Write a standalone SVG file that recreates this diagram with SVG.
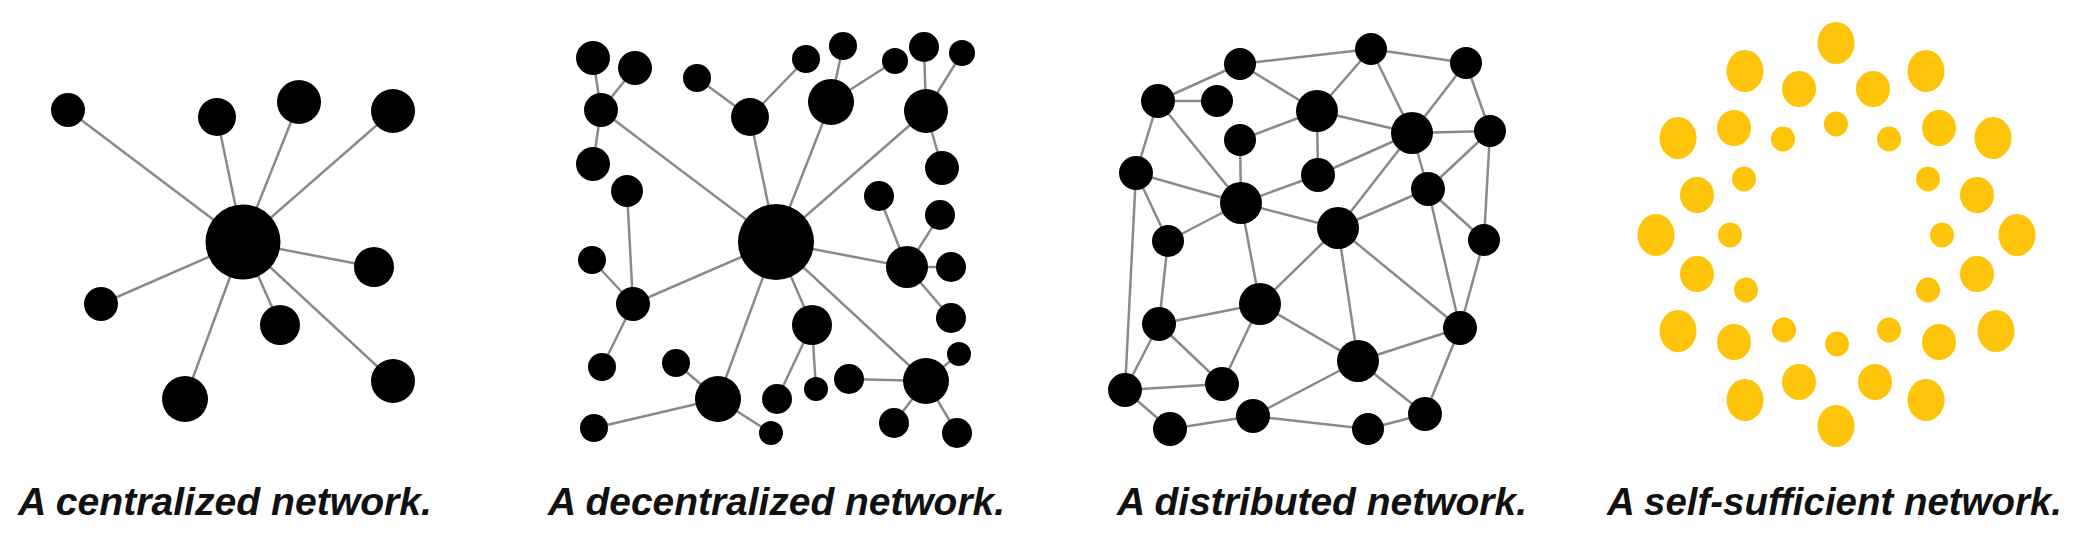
<svg xmlns="http://www.w3.org/2000/svg" width="2095" height="551" viewBox="0 0 2095 551">
<style>
.bg{fill:#ffffff}
.edge{stroke:#8a8a8a;stroke-width:2.5;stroke-linecap:round;fill:none}
.node{fill:#000000}
.sun{fill:#FDC40A}
.label{font-family:"Liberation Sans",Arial,sans-serif;font-weight:bold;font-style:italic;font-size:39px;fill:#111111}
</style>
<rect class="bg" x="0" y="0" width="2095" height="551"/>

<!-- Panel 1: centralized -->
<g id="connectors-centralized">
<line class="edge" x1="243" y1="242" x2="68" y2="110"/>
<line class="edge" x1="243" y1="242" x2="217" y2="117"/>
<line class="edge" x1="243" y1="242" x2="299" y2="102"/>
<line class="edge" x1="243" y1="242" x2="393" y2="111"/>
<line class="edge" x1="243" y1="242" x2="374" y2="267"/>
<line class="edge" x1="243" y1="242" x2="101" y2="304"/>
<line class="edge" x1="243" y1="242" x2="280" y2="325"/>
<line class="edge" x1="243" y1="242" x2="393" y2="381"/>
<line class="edge" x1="243" y1="242" x2="185" y2="399"/>
</g>
<g id="c-hub"><circle class="node" cx="243" cy="242" r="37.5"/></g>
<g id="c-a"><circle class="node" cx="68" cy="110" r="17"/></g>
<g id="c-b"><circle class="node" cx="217" cy="117" r="19"/></g>
<g id="c-c"><circle class="node" cx="299" cy="102" r="22"/></g>
<g id="c-d"><circle class="node" cx="393" cy="111" r="22"/></g>
<g id="c-e"><circle class="node" cx="374" cy="267" r="20"/></g>
<g id="c-f"><circle class="node" cx="101" cy="304" r="17"/></g>
<g id="c-g"><circle class="node" cx="280" cy="325" r="20"/></g>
<g id="c-h"><circle class="node" cx="393" cy="381" r="22"/></g>
<g id="c-i"><circle class="node" cx="185" cy="399" r="23"/></g>

<!-- Panel 2: decentralized -->
<g id="connectors-decentralized">
<line class="edge" x1="776" y1="242" x2="601" y2="110"/>
<line class="edge" x1="776" y1="242" x2="750" y2="117"/>
<line class="edge" x1="776" y1="242" x2="831" y2="102"/>
<line class="edge" x1="776" y1="242" x2="926" y2="111"/>
<line class="edge" x1="776" y1="242" x2="907" y2="267"/>
<line class="edge" x1="776" y1="242" x2="926" y2="381"/>
<line class="edge" x1="776" y1="242" x2="812" y2="325"/>
<line class="edge" x1="776" y1="242" x2="718" y2="399"/>
<line class="edge" x1="776" y1="242" x2="633" y2="304"/>
<line class="edge" x1="601" y1="110" x2="593" y2="58"/>
<line class="edge" x1="601" y1="110" x2="635" y2="68"/>
<line class="edge" x1="601" y1="110" x2="593" y2="164"/>
<line class="edge" x1="633" y1="304" x2="627" y2="191"/>
<line class="edge" x1="633" y1="304" x2="592" y2="260"/>
<line class="edge" x1="633" y1="304" x2="602" y2="367"/>
<line class="edge" x1="718" y1="399" x2="676" y2="363"/>
<line class="edge" x1="718" y1="399" x2="594" y2="428"/>
<line class="edge" x1="718" y1="399" x2="771" y2="433"/>
<line class="edge" x1="812" y1="325" x2="777" y2="399"/>
<line class="edge" x1="812" y1="325" x2="816" y2="389"/>
<line class="edge" x1="926" y1="381" x2="849" y2="379"/>
<line class="edge" x1="926" y1="381" x2="959" y2="354"/>
<line class="edge" x1="926" y1="381" x2="894" y2="423"/>
<line class="edge" x1="926" y1="381" x2="957" y2="433"/>
<line class="edge" x1="907" y1="267" x2="879" y2="196"/>
<line class="edge" x1="907" y1="267" x2="940" y2="215"/>
<line class="edge" x1="907" y1="267" x2="951" y2="267"/>
<line class="edge" x1="907" y1="267" x2="951" y2="318"/>
<line class="edge" x1="926" y1="111" x2="924" y2="47"/>
<line class="edge" x1="926" y1="111" x2="962" y2="53"/>
<line class="edge" x1="926" y1="111" x2="942" y2="168"/>
<line class="edge" x1="831" y1="102" x2="843" y2="46"/>
<line class="edge" x1="831" y1="102" x2="895" y2="61"/>
<line class="edge" x1="750" y1="117" x2="697" y2="78"/>
<line class="edge" x1="750" y1="117" x2="806" y2="59"/>
</g>
<g id="d-hub"><circle class="node" cx="776" cy="242" r="38"/></g>
<g id="d-n1"><circle class="node" cx="593" cy="58" r="17"/></g>
<g id="d-n2"><circle class="node" cx="635" cy="68" r="17"/></g>
<g id="d-n3"><circle class="node" cx="601" cy="110" r="17"/></g>
<g id="d-n4"><circle class="node" cx="593" cy="164" r="17"/></g>
<g id="d-n5"><circle class="node" cx="627" cy="191" r="16"/></g>
<g id="d-n6"><circle class="node" cx="592" cy="260" r="14"/></g>
<g id="d-n7"><circle class="node" cx="633" cy="304" r="17"/></g>
<g id="d-n8"><circle class="node" cx="602" cy="367" r="14"/></g>
<g id="d-n9"><circle class="node" cx="594" cy="428" r="14"/></g>
<g id="d-n10"><circle class="node" cx="676" cy="363" r="14"/></g>
<g id="d-n11"><circle class="node" cx="718" cy="399" r="23"/></g>
<g id="d-n12"><circle class="node" cx="771" cy="433" r="12"/></g>
<g id="d-n13"><circle class="node" cx="777" cy="399" r="15"/></g>
<g id="d-n14"><circle class="node" cx="816" cy="389" r="12"/></g>
<g id="d-n15"><circle class="node" cx="812" cy="325" r="20"/></g>
<g id="d-n16"><circle class="node" cx="849" cy="379" r="15"/></g>
<g id="d-n17"><circle class="node" cx="926" cy="381" r="23"/></g>
<g id="d-n18"><circle class="node" cx="959" cy="354" r="12"/></g>
<g id="d-n19"><circle class="node" cx="894" cy="423" r="15"/></g>
<g id="d-n20"><circle class="node" cx="957" cy="433" r="15"/></g>
<g id="d-n21"><circle class="node" cx="951" cy="318" r="15"/></g>
<g id="d-n22"><circle class="node" cx="907" cy="267" r="21"/></g>
<g id="d-n23"><circle class="node" cx="951" cy="267" r="15"/></g>
<g id="d-n24"><circle class="node" cx="940" cy="215" r="15"/></g>
<g id="d-n25"><circle class="node" cx="879" cy="196" r="15"/></g>
<g id="d-n26"><circle class="node" cx="942" cy="168" r="17"/></g>
<g id="d-n27"><circle class="node" cx="926" cy="111" r="22"/></g>
<g id="d-n28"><circle class="node" cx="924" cy="47" r="15"/></g>
<g id="d-n29"><circle class="node" cx="962" cy="53" r="13"/></g>
<g id="d-n30"><circle class="node" cx="831" cy="102" r="23"/></g>
<g id="d-n31"><circle class="node" cx="843" cy="46" r="14"/></g>
<g id="d-n32"><circle class="node" cx="895" cy="61" r="13"/></g>
<g id="d-n33"><circle class="node" cx="750" cy="117" r="19"/></g>
<g id="d-n34"><circle class="node" cx="697" cy="78" r="14"/></g>
<g id="d-n35"><circle class="node" cx="806" cy="59" r="14"/></g>

<!-- Panel 3: distributed -->
<g id="connectors-distributed">
<line class="edge" x1="1240" y1="64" x2="1371" y2="49"/>
<line class="edge" x1="1371" y1="49" x2="1466" y2="63"/>
<line class="edge" x1="1240" y1="64" x2="1158" y2="101"/>
<line class="edge" x1="1158" y1="101" x2="1217" y2="101"/>
<line class="edge" x1="1240" y1="64" x2="1317" y2="111"/>
<line class="edge" x1="1371" y1="49" x2="1317" y2="111"/>
<line class="edge" x1="1371" y1="49" x2="1412" y2="133"/>
<line class="edge" x1="1466" y1="63" x2="1412" y2="133"/>
<line class="edge" x1="1466" y1="63" x2="1490" y2="131"/>
<line class="edge" x1="1317" y1="111" x2="1412" y2="133"/>
<line class="edge" x1="1317" y1="111" x2="1240" y2="140"/>
<line class="edge" x1="1317" y1="111" x2="1318" y2="175"/>
<line class="edge" x1="1412" y1="133" x2="1490" y2="131"/>
<line class="edge" x1="1412" y1="133" x2="1318" y2="175"/>
<line class="edge" x1="1412" y1="133" x2="1338" y2="228"/>
<line class="edge" x1="1412" y1="133" x2="1428" y2="189"/>
<line class="edge" x1="1490" y1="131" x2="1428" y2="189"/>
<line class="edge" x1="1490" y1="131" x2="1484" y2="240"/>
<line class="edge" x1="1158" y1="101" x2="1136" y2="173"/>
<line class="edge" x1="1158" y1="101" x2="1241" y2="203"/>
<line class="edge" x1="1240" y1="140" x2="1241" y2="203"/>
<line class="edge" x1="1136" y1="173" x2="1241" y2="203"/>
<line class="edge" x1="1136" y1="173" x2="1168" y2="241"/>
<line class="edge" x1="1136" y1="173" x2="1125" y2="390"/>
<line class="edge" x1="1318" y1="175" x2="1241" y2="203"/>
<line class="edge" x1="1428" y1="189" x2="1338" y2="228"/>
<line class="edge" x1="1428" y1="189" x2="1484" y2="240"/>
<line class="edge" x1="1428" y1="189" x2="1460" y2="328"/>
<line class="edge" x1="1241" y1="203" x2="1338" y2="228"/>
<line class="edge" x1="1241" y1="203" x2="1168" y2="241"/>
<line class="edge" x1="1241" y1="203" x2="1260" y2="304"/>
<line class="edge" x1="1338" y1="228" x2="1260" y2="304"/>
<line class="edge" x1="1338" y1="228" x2="1358" y2="361"/>
<line class="edge" x1="1338" y1="228" x2="1460" y2="328"/>
<line class="edge" x1="1168" y1="241" x2="1159" y2="324"/>
<line class="edge" x1="1484" y1="240" x2="1460" y2="328"/>
<line class="edge" x1="1260" y1="304" x2="1159" y2="324"/>
<line class="edge" x1="1260" y1="304" x2="1222" y2="384"/>
<line class="edge" x1="1260" y1="304" x2="1358" y2="361"/>
<line class="edge" x1="1159" y1="324" x2="1125" y2="390"/>
<line class="edge" x1="1159" y1="324" x2="1222" y2="384"/>
<line class="edge" x1="1460" y1="328" x2="1358" y2="361"/>
<line class="edge" x1="1460" y1="328" x2="1425" y2="414"/>
<line class="edge" x1="1358" y1="361" x2="1253" y2="416"/>
<line class="edge" x1="1358" y1="361" x2="1425" y2="414"/>
<line class="edge" x1="1125" y1="390" x2="1222" y2="384"/>
<line class="edge" x1="1125" y1="390" x2="1170" y2="429"/>
<line class="edge" x1="1253" y1="416" x2="1170" y2="429"/>
<line class="edge" x1="1253" y1="416" x2="1368" y2="429"/>
<line class="edge" x1="1425" y1="414" x2="1368" y2="429"/>
</g>
<g id="x-d1"><circle class="node" cx="1240" cy="64" r="16"/></g>
<g id="x-d2"><circle class="node" cx="1371" cy="49" r="16"/></g>
<g id="x-d3"><circle class="node" cx="1466" cy="63" r="16"/></g>
<g id="x-d4"><circle class="node" cx="1158" cy="101" r="17"/></g>
<g id="x-d5"><circle class="node" cx="1217" cy="101" r="16"/></g>
<g id="x-d6"><circle class="node" cx="1317" cy="111" r="21"/></g>
<g id="x-d7"><circle class="node" cx="1412" cy="133" r="21"/></g>
<g id="x-d8"><circle class="node" cx="1490" cy="131" r="16"/></g>
<g id="x-d9"><circle class="node" cx="1240" cy="140" r="16"/></g>
<g id="x-d10"><circle class="node" cx="1136" cy="173" r="17"/></g>
<g id="x-d11"><circle class="node" cx="1318" cy="175" r="17"/></g>
<g id="x-d12"><circle class="node" cx="1428" cy="189" r="17"/></g>
<g id="x-d13"><circle class="node" cx="1241" cy="203" r="21"/></g>
<g id="x-d14"><circle class="node" cx="1338" cy="228" r="21"/></g>
<g id="x-d15"><circle class="node" cx="1168" cy="241" r="16"/></g>
<g id="x-d16"><circle class="node" cx="1484" cy="240" r="16"/></g>
<g id="x-d17"><circle class="node" cx="1260" cy="304" r="21"/></g>
<g id="x-d18"><circle class="node" cx="1159" cy="324" r="17"/></g>
<g id="x-d19"><circle class="node" cx="1460" cy="328" r="17"/></g>
<g id="x-d20"><circle class="node" cx="1358" cy="361" r="21"/></g>
<g id="x-d21"><circle class="node" cx="1125" cy="390" r="17"/></g>
<g id="x-d22"><circle class="node" cx="1222" cy="384" r="17"/></g>
<g id="x-d23"><circle class="node" cx="1253" cy="416" r="17"/></g>
<g id="x-d24"><circle class="node" cx="1425" cy="414" r="17"/></g>
<g id="x-d25"><circle class="node" cx="1170" cy="429" r="17"/></g>
<g id="x-d26"><circle class="node" cx="1368" cy="429" r="16"/></g>

<!-- Panel 4: self-sufficient -->
<g id="s-outer">
<ellipse class="sun" cx="1836" cy="43" rx="18.5" ry="21"/>
<ellipse class="sun" cx="1745" cy="71" rx="18.5" ry="21"/>
<ellipse class="sun" cx="1926" cy="71" rx="18.5" ry="21"/>
<ellipse class="sun" cx="1678" cy="138" rx="18.5" ry="21"/>
<ellipse class="sun" cx="1993" cy="138" rx="18.5" ry="21"/>
<ellipse class="sun" cx="1656" cy="235" rx="18.5" ry="21"/>
<ellipse class="sun" cx="2017" cy="235" rx="18.5" ry="21"/>
<ellipse class="sun" cx="1678" cy="331" rx="18.5" ry="21"/>
<ellipse class="sun" cx="1996" cy="331" rx="18.5" ry="21"/>
<ellipse class="sun" cx="1745" cy="400" rx="18.5" ry="21"/>
<ellipse class="sun" cx="1926" cy="400" rx="18.5" ry="21"/>
<ellipse class="sun" cx="1836" cy="426" rx="18.5" ry="21"/>
</g>
<g id="s-middle">
<ellipse class="sun" cx="1799" cy="89" rx="17" ry="18"/>
<ellipse class="sun" cx="1873" cy="89" rx="17" ry="18"/>
<ellipse class="sun" cx="1734" cy="128" rx="17" ry="18"/>
<ellipse class="sun" cx="1939" cy="128" rx="17" ry="18"/>
<ellipse class="sun" cx="1697" cy="195" rx="17" ry="18"/>
<ellipse class="sun" cx="1977" cy="195" rx="17" ry="18"/>
<ellipse class="sun" cx="1697" cy="274" rx="17" ry="18"/>
<ellipse class="sun" cx="1977" cy="274" rx="17" ry="18"/>
<ellipse class="sun" cx="1734" cy="342" rx="17" ry="18"/>
<ellipse class="sun" cx="1939" cy="342" rx="17" ry="18"/>
<ellipse class="sun" cx="1799" cy="382" rx="17" ry="18"/>
<ellipse class="sun" cx="1875" cy="382" rx="17" ry="18"/>
</g>
<g id="s-inner">
<ellipse class="sun" cx="1836" cy="124" rx="12" ry="12.5"/>
<ellipse class="sun" cx="1783" cy="139" rx="12" ry="12.5"/>
<ellipse class="sun" cx="1889" cy="139" rx="12" ry="12.5"/>
<ellipse class="sun" cx="1744" cy="179" rx="12" ry="12.5"/>
<ellipse class="sun" cx="1928" cy="179" rx="12" ry="12.5"/>
<ellipse class="sun" cx="1730" cy="235" rx="12" ry="12.5"/>
<ellipse class="sun" cx="1942" cy="235" rx="12" ry="12.5"/>
<ellipse class="sun" cx="1746" cy="290" rx="12" ry="12.5"/>
<ellipse class="sun" cx="1928" cy="290" rx="12" ry="12.5"/>
<ellipse class="sun" cx="1784" cy="330" rx="12" ry="12.5"/>
<ellipse class="sun" cx="1889" cy="330" rx="12" ry="12.5"/>
<ellipse class="sun" cx="1837" cy="344" rx="12" ry="12.5"/>
</g>

<!-- Labels -->
<g id="labels">
<text class="label" x="18" y="515" textLength="414" lengthAdjust="spacingAndGlyphs">A centralized network.</text>
<text class="label" x="548" y="515" textLength="457" lengthAdjust="spacingAndGlyphs">A decentralized network.</text>
<text class="label" x="1117" y="515" textLength="410" lengthAdjust="spacingAndGlyphs">A distributed network.</text>
<text class="label" x="1607" y="515" textLength="455" lengthAdjust="spacingAndGlyphs">A self-sufficient network.</text>
</g>
</svg>
